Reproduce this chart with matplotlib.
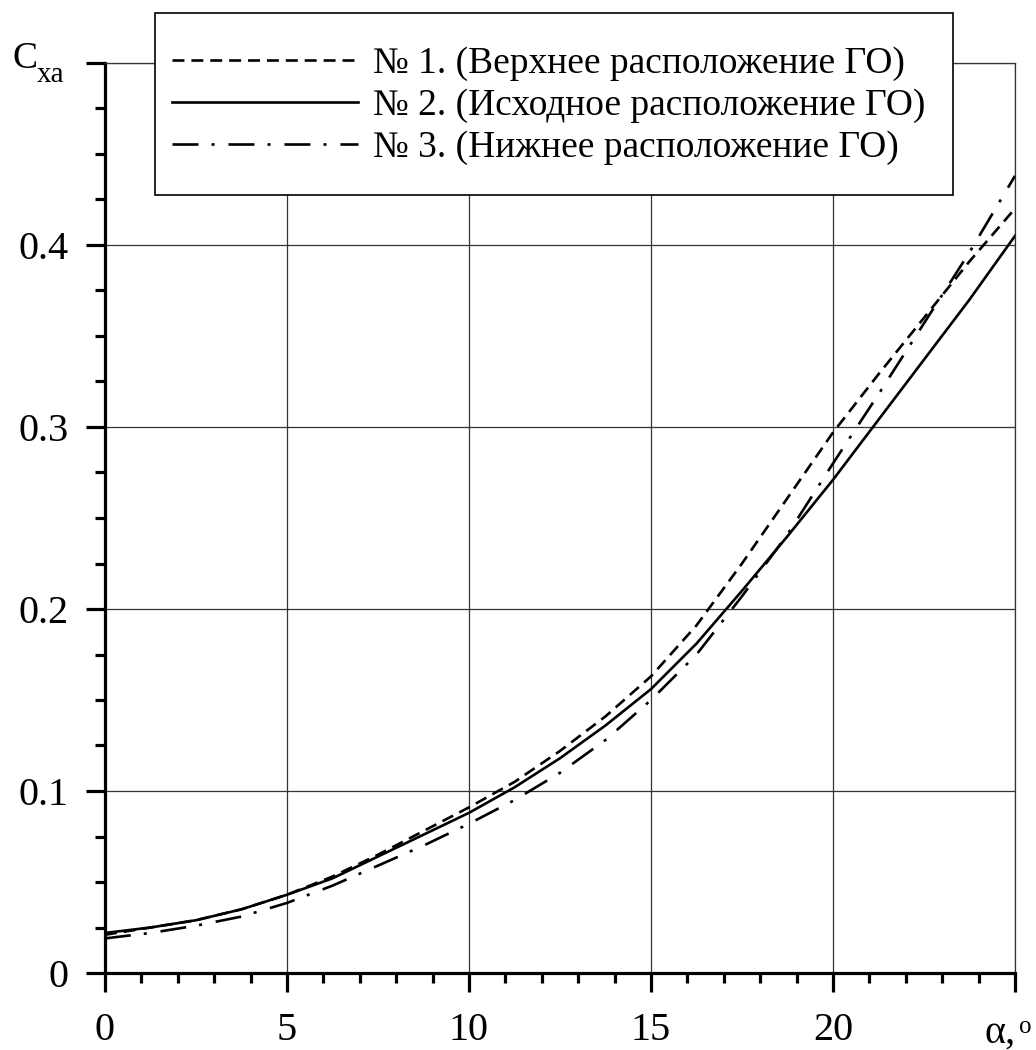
import matplotlib
matplotlib.use("Agg")
import matplotlib.pyplot as plt
from matplotlib.ticker import MultipleLocator, FixedLocator
from matplotlib.patches import Rectangle

plt.rcParams['font.family'] = ['Liberation Serif', 'DejaVu Serif']
plt.rcParams['lines.scale_dashes'] = False

# data: angle of attack (deg) and drag coefficient Cxa for three layouts
alpha = [0, 1.25, 2.5, 3.75, 5, 6.25, 7.5, 8.75, 10, 11.25, 12.5,
         13.75, 15, 16.25, 17.5, 18.75, 20, 21.25, 22.5, 23.75, 25]
cxa_1 = [0.021, 0.025, 0.029, 0.035, 0.043, 0.053, 0.065, 0.078, 0.091, 0.105, 0.122,
         0.141, 0.163, 0.191, 0.225, 0.261, 0.297, 0.329, 0.360, 0.391, 0.420]
cxa_2 = [0.022, 0.025, 0.029, 0.035, 0.043, 0.052, 0.064, 0.076, 0.088, 0.102, 0.118,
         0.136, 0.156, 0.181, 0.210, 0.240, 0.271, 0.304, 0.337, 0.370, 0.405]
cxa_3 = [0.019, 0.022, 0.026, 0.031, 0.0385, 0.048, 0.059, 0.070, 0.082, 0.095, 0.110,
         0.128, 0.150, 0.175, 0.207, 0.241, 0.280, 0.318, 0.357, 0.396, 0.438]

labels = ["№ 1. (Верхнее расположение ГО)",
          "№ 2. (Исходное расположение ГО)",
          "№ 3. (Нижнее расположение ГО)"]
x_ticks = [0, 5, 10, 15, 20, 25]
x_ticklabels = ["0", "5", "10", "15", "20", ""]
y_ticks = [0, 0.1, 0.2, 0.3, 0.4, 0.5]
y_ticklabels = ["0", "0.1", "0.2", "0.3", "0.4", ""]

W, H = 1036, 1050
fig = plt.figure(figsize=(W / 100, H / 100), dpi=100)
ax = fig.add_axes([105 / W, 1 - 973 / H, (1015 - 105) / W, (973 - 63) / H])

lw = 1.9
l1, = ax.plot(alpha, cxa_1, color='black', lw=lw, linestyle=(0, (8.6, 5.0)))
l2, = ax.plot(alpha, cxa_2, color='black', lw=lw, linestyle='-')
l3, = ax.plot(alpha, cxa_3, color='black', lw=lw, linestyle=(0, (18.7, 9.4, 2.2, 10.0)))

ax.set_xlim(0, 25)
ax.set_ylim(0, 0.5)
ax.xaxis.set_major_locator(FixedLocator(x_ticks))
ax.yaxis.set_major_locator(FixedLocator(y_ticks))
ax.set_xticklabels(x_ticklabels)
ax.set_yticklabels(y_ticklabels)
ax.xaxis.set_minor_locator(MultipleLocator(1))
ax.yaxis.set_minor_locator(MultipleLocator(0.025))

ax.grid(True, which='major', color='#333333', lw=0.9)
ax.set_axisbelow(True)

for s in ['left', 'bottom']:
    ax.spines[s].set_linewidth(2.3)
for s in ['top', 'right']:
    ax.spines[s].set_linewidth(0.9)
    ax.spines[s].set_color('#333333')

ax.tick_params(which='major', direction='out', length=14, width=2.3, labelsize=29)
ax.tick_params(which='minor', direction='out', length=7, width=2.3)
ax.tick_params(axis='x', which='major', pad=14)
ax.tick_params(axis='y', which='major', pad=12)

# axis labels
fig.text(12 / W, 1 - 68 / H, 'C', fontsize=27, ha='left', va='baseline')
fig.text(37 / W, 1 - 82 / H, 'xa', fontsize=21, ha='left', va='baseline')
fig.text(985 / W, 1 - 1043 / H, 'α,', fontsize=29, ha='left', va='baseline')
fig.text(1019 / W, 1 - 1033 / H, 'o', fontsize=18, ha='left', va='baseline')

# legend box
box = Rectangle((155 / W, 1 - 195 / H), (953 - 155) / W, (195 - 13) / H,
                transform=fig.transFigure, facecolor='white', edgecolor='black',
                lw=1.2, zorder=5)
fig.add_artist(box)

leg = fig.legend([l1, l2, l3], labels, loc='center left',
                 bbox_to_anchor=(172 / W, 1 - 106 / H),
                 fontsize=27, handlelength=4.95, handletextpad=0.4,
                 labelspacing=0.2, borderpad=0, borderaxespad=0,
                 frameon=False)
leg.set_zorder(10)

fig.savefig('out.png', dpi=100)
